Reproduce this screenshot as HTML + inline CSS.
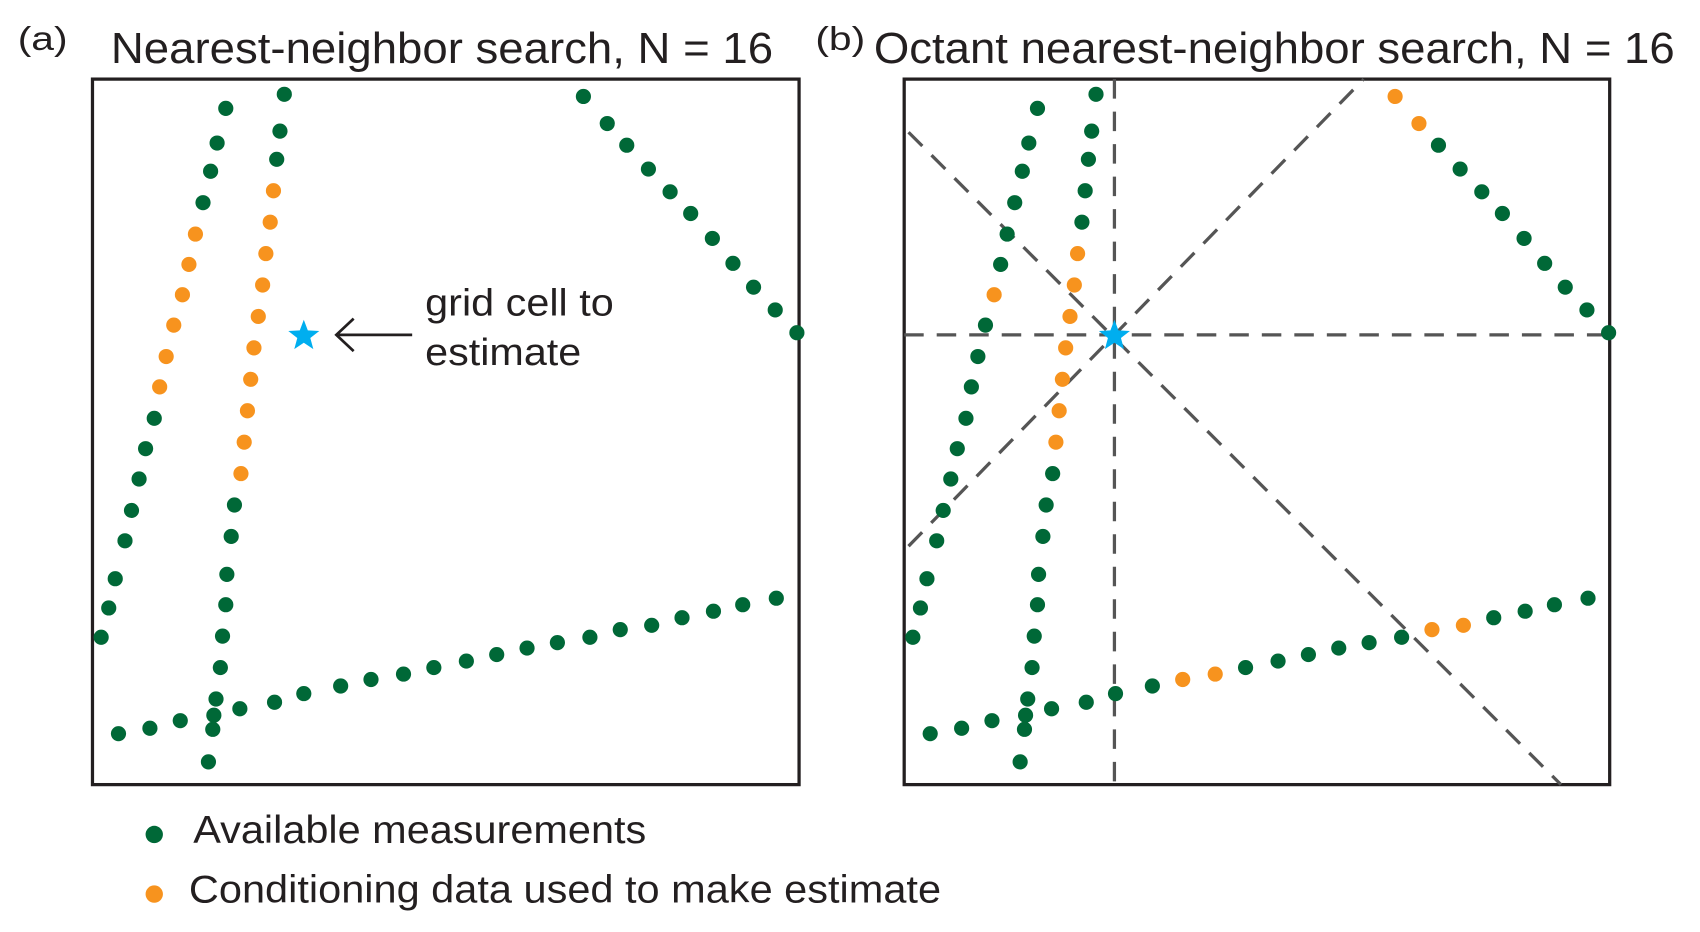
<!DOCTYPE html>
<html><head><meta charset="utf-8"><style>
html,body{margin:0;padding:0;background:#fff;}
svg{display:block;}
text{font-family:"Liberation Sans",sans-serif;fill:#231f20;}
</style></head><body>
<svg width="1700" height="932" viewBox="0 0 1568 860" xmlns="http://www.w3.org/2000/svg">
<text x="16" y="46" font-size="31" textLength="46" lengthAdjust="spacingAndGlyphs">(a)</text>
<text x="102" y="58" font-size="40" textLength="611" lengthAdjust="spacingAndGlyphs">Nearest-neighbor search, N = 16</text>
<text x="752" y="46" font-size="31" textLength="46" lengthAdjust="spacingAndGlyphs">(b)</text>
<text x="806" y="58" font-size="40" textLength="739" lengthAdjust="spacingAndGlyphs">Octant nearest-neighbor search, N = 16</text>
<rect x="85" y="73" width="652" height="651" fill="none" stroke="#231f20" stroke-width="3"/>
<rect x="834" y="73" width="651" height="651" fill="none" stroke="#231f20" stroke-width="3"/>
<g stroke="#555" stroke-width="3" stroke-dasharray="18,12" fill="none">
<line x1="834" y1="309" x2="1485" y2="309"/>
<line x1="1028" y1="73" x2="1028" y2="724"/>
<line x1="838" y1="122" x2="1440" y2="724"/>
<line x1="838" y1="504" x2="1258" y2="73"/>
</g>
<g id="L"></g>
<g id="R"></g>
<line x1="380" y1="309" x2="312" y2="309" stroke="#231f20" stroke-width="2.5"/>
<polyline points="326,294 310,309 326,324" fill="none" stroke="#231f20" stroke-width="2.5"/>
<text x="392" y="291" font-size="35" textLength="174" lengthAdjust="spacingAndGlyphs">grid cell to</text>
<text x="392" y="337" font-size="35" textLength="144" lengthAdjust="spacingAndGlyphs">estimate</text>
<circle cx="142" cy="770" r="8" fill="#006837"/>
<text x="178" y="778" font-size="36" textLength="418" lengthAdjust="spacingAndGlyphs">Available measurements</text>
<circle cx="142" cy="825" r="8" fill="#f7931e"/>
<text x="174" y="833" font-size="36" textLength="694" lengthAdjust="spacingAndGlyphs">Conditioning data used to make estimate</text>
<g id="S"></g>
</svg>
<script>
var G="#006837",O="#f7931e",NS="http://www.w3.org/2000/svg";
var l1=[[208,100],[200,132],[194,158],[187,187],[180,216],[174,244],[168,272],[160,300],[153,329],[147,357],[142,386],[134,414],[128,442],[121,471],[115,499],[106,534],[100,561],[93,588]];
var l2=[[262,87],[258,121],[255,147],[252,176],[249,205],[245,234],[242,263],[238,292],[234,321],[231,350],[228,379],[225,408],[222,437],[216,466],[213,495],[209,530],[208,558],[205,587],[203,616],[199,645],[197,660],[196,673],[192,703]];
var l3=[[538,89],[560,114],[578,134],[598,156],[618,177],[637,197],[657,220],[676,243],[695,265],[715,286],[735,307]];
var l4=[[109,677],[138,672],[166,665],[221,654],[253,648],[280,640],[314,633],[342,627],[372,622],[400,616],[430,610],[458,604],[486,598],[514,593],[544,588],[572,581],[601,577],[629,570],[658,564],[685,558],[716,552]];
function draw(g,dx,sets){sets.forEach(function(s){s[0].forEach(function(p,i){var c=document.createElementNS(NS,"circle");c.setAttribute("cx",p[0]+dx);c.setAttribute("cy",p[1]);c.setAttribute("r",7);c.setAttribute("fill",s[1].indexOf(i)>=0?O:G);g.appendChild(c);});});}
draw(document.getElementById("L"),0,[[l1,[4,5,6,7,8,9]],[l2,[3,4,5,6,7,8,9,10,11,12]],[l3,[]],[l4,[]]]);
draw(document.getElementById("R"),749,[[l1,[6]],[l2,[5,6,7,8,9,10,11]],[l3,[0,1]],[l4,[7,8,15,16]]]);
function star(cx,cy,r){var p=[];for(var i=0;i<10;i++){var a=-Math.PI/2+i*Math.PI/5,rr=i%2?r*0.42:r;p.push((cx+rr*Math.cos(a)).toFixed(1)+","+(cy+rr*Math.sin(a)).toFixed(1));}var s=document.createElementNS(NS,"polygon");s.setAttribute("points",p.join(" "));s.setAttribute("fill","#00aeef");document.getElementById("S").appendChild(s);}
star(280,310,15);star(1028,310,15);
</script>
</body></html>
